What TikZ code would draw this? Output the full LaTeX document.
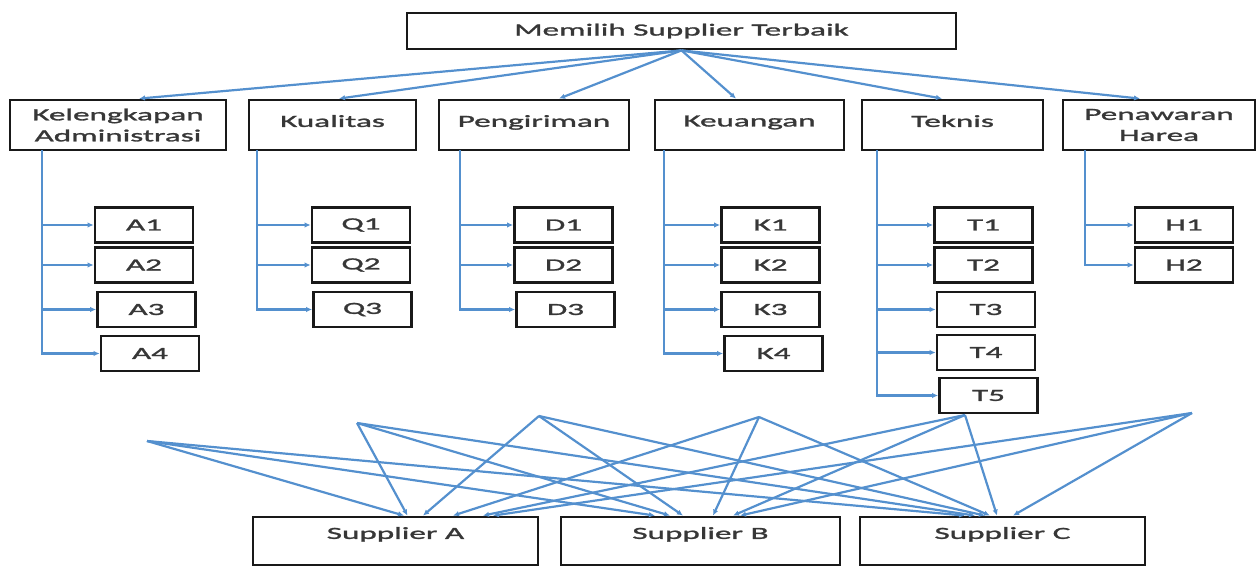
\documentclass[tikz,border=0pt]{standalone}
\usepackage{fontspec}
\setmainfont{Carlito}[FakeStretch=1.95,FakeBold=1.6]
\usetikzlibrary{arrows.meta}
\definecolor{lineblue}{RGB}{84,144,206}
\definecolor{boxline}{RGB}{25,25,25}
\definecolor{txt}{RGB}{55,55,55}
\tikzset{
  box/.style={draw=boxline, line width=2.8pt, fill=white, inner sep=0pt, text=txt,
    font=\fontsize{17pt}{21pt}\selectfont, align=center},
  crit/.style={box, minimum height=50pt},
  leaf/.style={box, minimum width=98pt, minimum height=35pt},
  supp/.style={box, minimum width=285pt, minimum height=48pt, text depth=16pt},
  arr/.style={draw=lineblue, line width=2.2pt, -{Latex[length=6pt,width=5.5pt]}},
}
\begin{document}
\begin{tikzpicture}[x=1pt,y=-1pt]
\useasboundingbox (0,0) rectangle (1258,567);

% top
\node[box, minimum width=549pt, minimum height=36pt] (top) at (681.5,31) {Memilih Supplier Terbaik};

% criteria
\node[crit, minimum width=216pt] (kel) at (118,125) {Kelengkapan\\Administrasi};
\node[crit, minimum width=167pt, text depth=8pt] (kua) at (332.5,125) {Kualitas};
\node[crit, minimum width=190pt, text depth=8pt] (pen) at (534,125) {Pengiriman};
\node[crit, minimum width=189pt, text depth=8pt] (keu) at (749.5,125) {Keuangan};
\node[crit, minimum width=181pt, text depth=8pt] (tek) at (952.5,125) {Teknis};
\node[crit, minimum width=192pt] (har) at (1159,125) {Penawaran\\Harea};

\draw[arr] (top.south) -- ([xshift=21pt]kel.north);
\draw[arr] (top.south) -- ([xshift=6.5pt]kua.north);
\draw[arr] (top.south) -- ([xshift=25pt]pen.north);
\draw[arr] (top.south) -- ([xshift=-13.5pt]keu.north);
\draw[arr] (top.south) -- ([xshift=-10.5pt]tek.north);
\draw[arr] (top.south) -- ([xshift=-19pt]har.north);

% leaves
\node[leaf] (a1) at (144,225) {A1};
\node[leaf] (a2) at (144,265) {A2};
\node[leaf] (a3) at (146.5,309.5) {A3};
\node[leaf] (a4) at (150,353.5) {A4};
\node[leaf] (q1) at (361,225) {Q1};
\node[leaf] (q2) at (361,265) {Q2};
\node[leaf] (q3) at (362.5,309.5) {Q3};
\node[leaf] (d1) at (563.5,225) {D1};
\node[leaf] (d2) at (563.5,265) {D2};
\node[leaf] (d3) at (565.5,309.5) {D3};
\node[leaf] (k1) at (770.5,225) {K1};
\node[leaf] (k2) at (770.5,265) {K2};
\node[leaf] (k3) at (770.5,309.5) {K3};
\node[leaf] (k4) at (773.5,353.5) {K4};
\node[leaf] (t1) at (983.5,225) {T1};
\node[leaf] (t2) at (983.5,265) {T2};
\node[leaf] (t3) at (986,309.5) {T3};
\node[leaf] (t4) at (986,352.5) {T4};
\node[leaf] (t5) at (988.5,395.5) {T5};
\node[leaf] (h1) at (1184,225) {H1};
\node[leaf] (h2) at (1184,265) {H2};

\coordinate (ka) at (42,150);
\coordinate (qa) at (257,150);
\coordinate (da) at (460,150);
\coordinate (kk) at (664,150);
\coordinate (ta) at (877,150);
\coordinate (ha) at (1085,150);

\draw[arr] (ka) |- (a4.west);
\foreach \n in {a1,a2,a3} \draw[arr] (ka |- \n.west) -- (\n.west);
\draw[arr] (qa) |- (q3.west);
\foreach \n in {q1,q2} \draw[arr] (qa |- \n.west) -- (\n.west);
\draw[arr] (da) |- (d3.west);
\foreach \n in {d1,d2} \draw[arr] (da |- \n.west) -- (\n.west);
\draw[arr] (kk) |- (k4.west);
\foreach \n in {k1,k2,k3} \draw[arr] (kk |- \n.west) -- (\n.west);
\draw[arr] (ta) |- (t5.west);
\foreach \n in {t1,t2,t3,t4} \draw[arr] (ta |- \n.west) -- (\n.west);
\draw[arr] (ha) |- (h2.west);
\draw[arr] (ha |- h1.west) -- (h1.west);

% suppliers
\node[supp] (sa) at (395.5,541) {Supplier A};
\node[supp, minimum width=279pt] (sb) at (700.5,541) {Supplier B};
\node[supp] (sc) at (1002.5,541) {Supplier C};

\coordinate (p1) at (147,441);
\coordinate (p2) at (357,423);
\coordinate (p3) at (539,416);
\coordinate (p4) at (759,417);
\coordinate (p5) at (965,415);
\coordinate (p6) at (1192,413);

\draw[arr] (p1) -- ([xshift=8.5pt]sa.north);
\draw[arr] (p2) -- ([xshift=12pt]sa.north);
\draw[arr] (p3) -- ([xshift=27.5pt]sa.north);
\draw[arr] (p4) -- ([xshift=57.5pt]sa.north);
\draw[arr] (p5) -- ([xshift=87.5pt]sa.north);
\draw[arr] (p6) -- ([xshift=97.5pt]sa.north);

\draw[arr] (p1) -- ([xshift=-45.5pt]sb.north);
\draw[arr] (p2) -- ([xshift=-30.5pt]sb.north);
\draw[arr] (p3) -- ([xshift=-17.5pt]sb.north);
\draw[arr] (p4) -- ([xshift=12.5pt]sb.north);
\draw[arr] (p5) -- ([xshift=32.5pt]sb.north);
\draw[arr] (p6) -- ([xshift=39.5pt]sb.north);

\draw[arr] (p1) -- ([xshift=-37.5pt]sc.north);
\draw[arr] (p2) -- ([xshift=-27.5pt]sc.north);
\draw[arr] (p3) -- ([xshift=-17.5pt]sc.north);
\draw[arr] (p4) -- ([xshift=-12.5pt]sc.north);
\draw[arr] (p5) -- ([xshift=-5.5pt]sc.north);
\draw[arr] (p6) -- ([xshift=10.5pt]sc.north);
\end{tikzpicture}
\end{document}
